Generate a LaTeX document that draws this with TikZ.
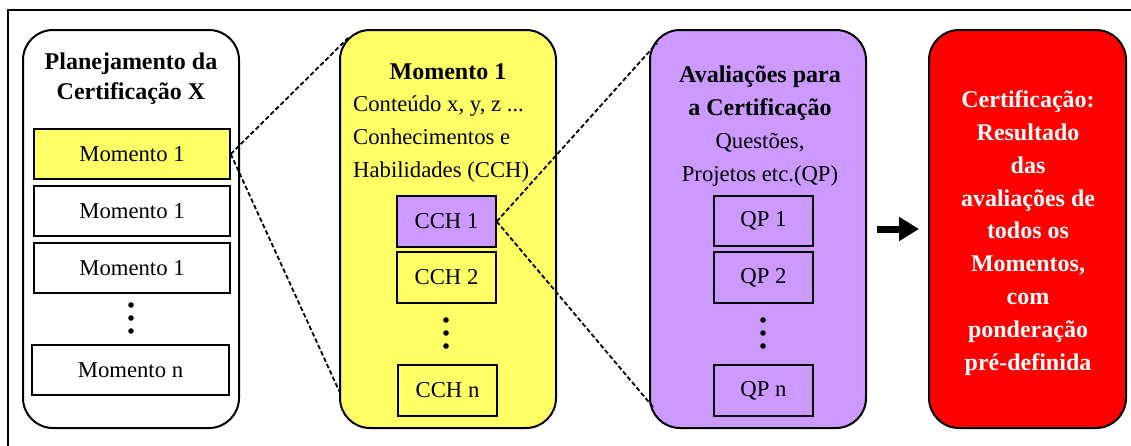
\documentclass[tikz,border=0pt]{standalone}
\usepackage{fontspec}
\setmainfont{Liberation Serif}
\definecolor{momyellow}{HTML}{FFFF66}
\definecolor{avalpurple}{HTML}{CC99FF}
\definecolor{certred}{HTML}{FF0000}
\usepackage{tikz}
\usetikzlibrary{
    arrows.meta,
    positioning
}
\newcommand{\diagtxt}{\fontsize{22.7}{32.7}\selectfont}
\newcommand{\diagbold}{\fontsize{24}{32.7}\selectfont\bfseries}
\tikzstyle{container} = [
    draw=black,
    line width=2pt,
    rounded corners=30pt,
    minimum width=216pt,
    minimum height=398pt,
    inner sep=0pt
]
\tikzstyle{item} = [
    draw=black,
    line width=1.5pt,
    minimum width=196pt,
    minimum height=50pt,
    inner sep=0pt,
    font=\diagtxt
]
\tikzstyle{subitem} = [
    item,
    minimum width=99pt,
    minimum height=51pt
]
\tikzstyle{zoomline} = [
    line width=1.8pt,
    dash pattern=on 4.5pt off 2.5pt
]
\tikzstyle{bigarrow} = [
    -{Triangle[length=20pt,width=23pt]},
    line width=7pt
]

\begin{document}
\begin{tikzpicture}[x=1pt, y=-1pt]
    \useasboundingbox (0,0) rectangle (1131,445);
    % Outer frame
    \draw[line width=1.5pt] (8,10) rectangle (1160,480);

    % Planning of the certification
    \node[container] (plan) at (131,229) {};
    \node[font=\fontsize{24}{30}\selectfont\bfseries, align=center] (plantitle) at (131,79) {Planejamento da\\Certificação X};
    \node[item, fill=momyellow] (mom1) at (132,154) {Momento 1};
    \node[item] (mom2) at (132,211) {Momento 1};
    \node[item] (mom3) at (132,268) {Momento 1};
    \coordinate (plandots) at (131,318);
    \node[item, minimum width=197pt] (momn) at (130.5,370) {Momento n};

    % Moment 1 detail
    \node[container, fill=momyellow] (mom) at (448,229) {};
    \node[font=\diagbold] (momtitle) at (448,72) {Momento 1};
    \node[font=\diagtxt, align=left, anchor=west, inner sep=0pt] (momtext) at (353,139) {Conteúdo x, y, z ...\\Conhecimentos e\\Habilidades (CCH)};
    \node[subitem, fill=avalpurple] (cch1) at (446.5,221.5) {CCH 1};
    \node[subitem] (cch2) at (446.5,277.5) {CCH 2};
    \coordinate (cchdots) at (446,333);
    \node[subitem] (cchn) at (447.5,390.5) {CCH n};

    % Evaluations
    \node[container, fill=avalpurple] (aval) at (758,229) {};
    \node[font=\diagtxt, align=center, inner sep=0pt] (avaltext) at (760,126) {\diagbold Avaliações para\\\diagbold a Certificação\\Questões,\\Projetos etc.(QP)};
    \node[subitem, minimum height=50pt] (qp1) at (763.5,221) {QP 1};
    \node[subitem] (qp2) at (763.5,277.5) {QP 2};
    \coordinate (qpdots) at (763,333);
    \node[subitem] (qpn) at (763.5,390.5) {QP n};

    % Certification result
    \node[container, fill=certred, minimum width=197pt] (cert) at (1027.5,229) {};
    \node[font=\fontsize{24}{32.8}\selectfont\bfseries, text=white, align=center, inner sep=0pt] (certtext) at (1028,233) {Certificação:\\Resultado\\das\\avaliações de\\todos os\\Momentos,\\com\\ponderação\\pré-definida};

    % Vertical dots
    \foreach \dd in {-13,0,13} {
        \fill ([yshift=\dd pt]plandots) circle (2.8pt);
        \fill ([yshift=\dd pt]cchdots) circle (2.8pt);
        \fill ([yshift=\dd pt]qpdots) circle (2.8pt);
    }

    % Zoom lines
    \coordinate (ytop) at (348,38);
    \coordinate (ybot) at (341,395);
    \coordinate (ptop) at (657,43);
    \coordinate (pbot) at (653,407);
    \draw[zoomline] (mom1.east) -- (ytop);
    \draw[zoomline] (mom1.east) -- (ybot);
    \draw[zoomline] (cch1.east) -- (ptop);
    \draw[zoomline] (cch1.east) -- (pbot);

    % Result arrow
    \draw[bigarrow, shorten <=10pt, shorten >=9pt] (aval) -- (cert);
\end{tikzpicture}
\end{document}
